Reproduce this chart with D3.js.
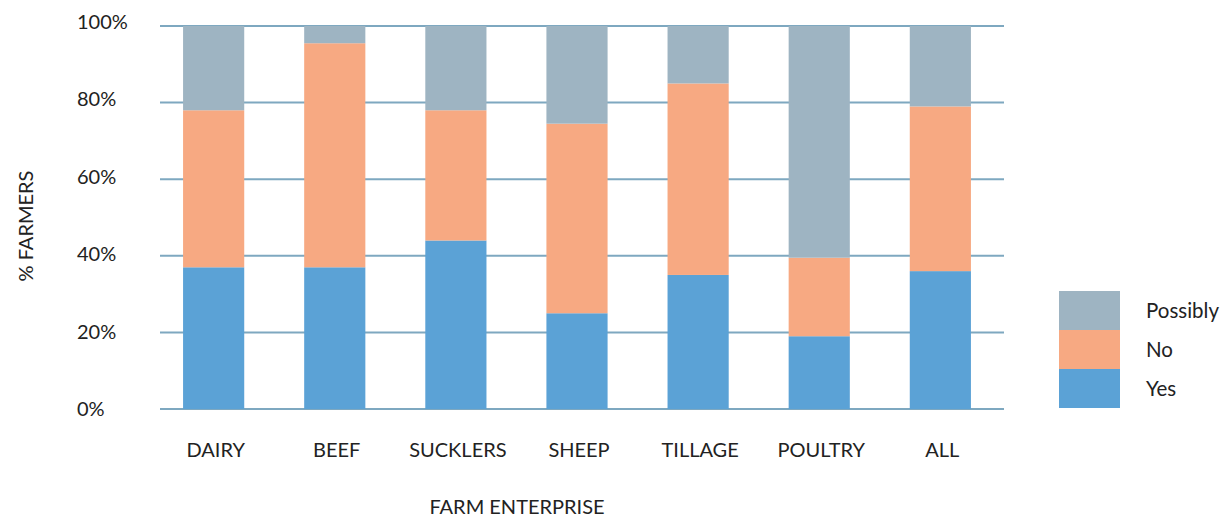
<!DOCTYPE html>
<html>
<head>
<meta charset="utf-8">
<script src="https://cdn.jsdelivr.net/npm/d3@7"></script>
<style>
  html, body { margin: 0; padding: 0; background: #fff; }
  svg { display: block; font-family: Lato, "Open Sans", sans-serif; }
</style>
</head>
<body>
<svg id="chart" width="1224" height="520"></svg>
<script>
// Share of farmers by enterprise answering Yes / No / Possibly (%)
const categories = ["DAIRY", "BEEF", "SUCKLERS", "SHEEP", "TILLAGE", "POULTRY", "ALL"];
const yesValues = [37, 37, 44, 25, 35, 19, 36];
const noValues = [41, 58.5, 34, 49.5, 50, 20.5, 43];
const possiblyValues = [22, 4.5, 22, 25.5, 15, 60.5, 21];
const seriesNames = ["Yes", "No", "Possibly"];
const yTicks = [0, 20, 40, 60, 80, 100];

const colors = { "Yes": "#5ba2d6", "No": "#f7a982", "Possibly": "#9eb4c2" };

const svg = d3.select("#chart");

const rows = categories.map((c, i) => ({
  category: c, Yes: yesValues[i], No: noValues[i], Possibly: possiblyValues[i]
}));
const stacked = d3.stack().keys(seriesNames)(rows);

const x = d3.scaleBand().domain(categories).range([154, 1000]).paddingInner(0.495).paddingOuter(0.24);
const y = d3.scaleLinear().domain([0, 100]).range([409, 26]);
const yLabel = d3.scaleLinear().domain([0, 100]).range([409, 22]);

// horizontal gridlines
svg.append("g").selectAll("line").data(yTicks).join("line")
  .attr("x1", 160).attr("x2", 1004)
  .attr("y1", d => y(d)).attr("y2", d => y(d))
  .attr("stroke", "#7ea8c0").attr("stroke-width", 2);

// stacked bars
svg.append("g").selectAll("g").data(stacked).join("g")
  .attr("fill", s => colors[s.key])
  .selectAll("rect").data(s => s).join("rect")
  .attr("x", d => x(d.data.category))
  .attr("width", x.bandwidth())
  .attr("y", d => y(d[1]))
  .attr("height", d => y(d[0]) - y(d[1]));

// y tick labels
svg.append("g").selectAll("text").data(yTicks).join("text")
  .attr("x", 77).attr("y", d => yLabel(d))
  .attr("dy", "0.35em")
  .attr("font-size", 20).attr("fill", "#222")
  .text(d => d + "%");

// category labels
svg.append("g").selectAll("text").data(categories).join("text")
  .attr("x", d => x(d) + x.bandwidth() / 2 + 2).attr("y", 450)
  .attr("dy", "0.35em").attr("text-anchor", "middle")
  .attr("font-size", 20).attr("fill", "#222")
  .text(d => d);

// axis titles
svg.append("text")
  .attr("transform", "translate(26,226) rotate(-90)")
  .attr("text-anchor", "middle").attr("dy", "0.35em")
  .attr("font-size", 20).attr("fill", "#222")
  .text("% FARMERS");

svg.append("text")
  .attr("x", 517).attr("y", 507).attr("dy", "0.35em")
  .attr("text-anchor", "middle")
  .attr("font-size", 20).attr("fill", "#222")
  .text("FARM ENTERPRISE");

// legend, top to bottom: Possibly, No, Yes
const legendOrder = seriesNames.slice().reverse();
const legend = svg.append("g").selectAll("g").data(legendOrder).join("g")
  .attr("transform", (d, i) => `translate(1059,${291 + i * 39})`);
legend.append("rect")
  .attr("width", 61).attr("height", 39)
  .attr("fill", d => colors[d]);
legend.append("text")
  .attr("x", 87).attr("y", 20).attr("dy", "0.35em")
  .attr("font-size", 20.5).attr("fill", "#222")
  .text(d => d);
</script>
</body>
</html>
